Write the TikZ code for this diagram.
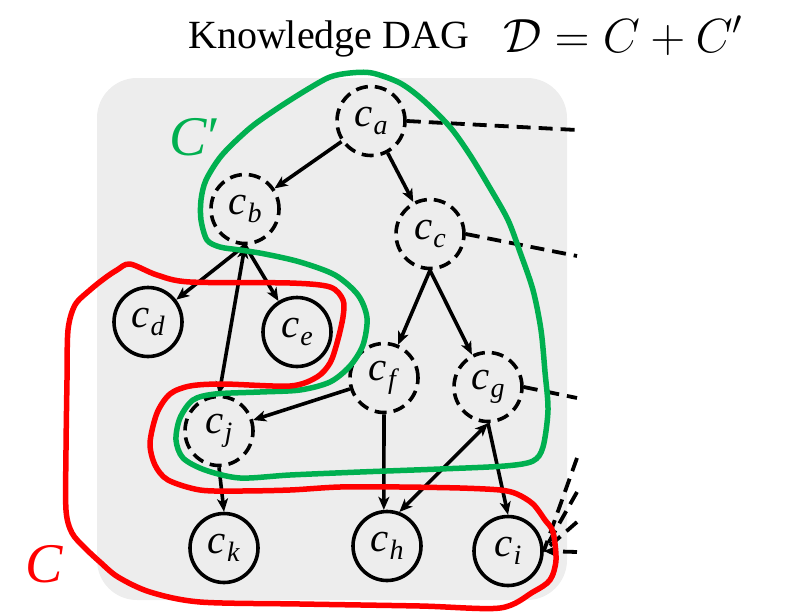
\RequirePackage{fix-cm}
\documentclass[tikz,border=0pt]{standalone}
\usepackage{fontspec}
\setmainfont{Liberation Serif}
\usetikzlibrary{arrows.meta,shapes.geometric}
\definecolor{setgreen}{HTML}{00B050}
\definecolor{setred}{HTML}{FF0000}
\definecolor{panel}{HTML}{EDEDED}
% concept label: italic c with a lowered italic index
\newcommand\cl[1]{\textit{c}\kern1pt\raisebox{-8pt}{\fontsize{28}{28}\selectfont\textit{#1}}}
\begin{document}
\begin{tikzpicture}[x=1pt,y=-1pt,
  concept/.style={ellipse, draw=black, line width=3.6pt, minimum width=68pt,
    minimum height=69pt, inner sep=0pt, font=\fontsize{41}{41}\selectfont},
  abstract/.style={concept, dash pattern=on 12pt off 7pt},
  link/.style={line width=3.6pt, -{Stealth[length=13pt,width=11pt,inset=3.5pt]}},
  biglink/.style={line width=3.6pt, {Stealth[length=13pt,width=11pt,inset=3.5pt]}-{Stealth[length=13pt,width=11pt,inset=3.5pt]}},
  ext/.style={line width=3.8pt, dash pattern=on 14pt off 8pt},
  setline/.style={line width=5.5pt, line join=round}]
\useasboundingbox (0,0) rectangle (793,616);

% title and formula
\node[anchor=base west, font=\fontsize{40}{40}\selectfont, inner sep=0pt] (title) at (188,48) {Knowledge DAG};
\node[anchor=base west, font=\fontsize{48}{48}\selectfont, inner sep=0pt] (formula) at (503,52) {$\mathcal{D}=C+C'$};

% background panel
\fill[panel, rounded corners=40pt] (97,78) rectangle (567,600);

% concepts
\node[abstract] (a) at (371,121) {\cl{a}};
\node[abstract] (b) at (245,209) {\cl{b}};
\node[abstract] (c) at (430,234) {\cl{c}};
\node[concept]  (d) at (148,322) {\cl{d}};
\node[concept]  (e) at (297,332) {\cl{e}};
\node[abstract] (f) at (384,378) {\cl{f}};
\node[abstract] (g) at (488,387) {\cl{g}};
\node[abstract] (j) at (219,431) {\cl{j}};
\node[concept]  (k) at (224,548) {\cl{k}};
\node[concept]  (h) at (387,546) {\cl{h}};
\node[concept]  (i) at (508,551) {\cl{i}};

% relations
\draw[link] (a) -- (b);
\draw[link] (a) -- (c);
\draw[link] (b.south) -- (d);
\draw[link] (b.south) -- (e);
\draw[biglink] (b.south) -- (j.north);
\draw[link] (c.south) -- (f);
\draw[link] (c.south) -- (g);
\draw[link] (f) -- (j);
\draw[link] (f.south) -- (h.95);
\draw[biglink] (g.south) -- (h.70);
\draw[link] (g.south) -- (i.north);
\draw[link] (j.south) -- (k.north);

% links leaving the panel
\coordinate (oa) at (577,130);
\coordinate (oc) at (577,256);
\coordinate (og) at (577,398);
\coordinate (o1) at (577,458);
\coordinate (o2) at (577,492);
\coordinate (o3) at (577,522);
\coordinate (o4) at (577,552);
\draw[ext] (a.east) -- (oa);
\draw[ext] (c.east) -- (oc);
\draw[ext] (g.east) -- (og);
\draw[ext] (o1) -- (i.east);
\draw[ext] (o2) -- (i.east);
\draw[ext] (o3) -- (i.east);
\draw[ext, -{Stealth[length=13pt,width=11pt,inset=3.5pt]}] (o4) -- (i.east);

% set C'
\draw[setgreen, setline] plot[smooth cycle, tension=0.5] coordinates {
  (350,73) (372,73) (400,83) (423,100) (450,127) (470,155) (490,188) (508,220)
  (520,252) (533,290) (541,330) (545,372) (548,410) (543,447) (533,461) (505,466)
  (440,469) (360,472) (290,475) (240,478) (205,470) (183,458) (176,440) (180,418)
  (193,400) (215,394) (260,392) (300,390) (330,382) (350,366) (363,345) (367,318)
  (358,295) (335,275) (300,262) (265,254) (240,250) (220,247) (207,240) (201,220)
  (201,200) (206,180) (222,155) (250,128) (278,108) (308,89) (330,77)};
\node[text=setgreen, font=\fontsize{56}{56}\selectfont\itshape, inner sep=0pt] (cprime) at (193,137) {C\kern-2pt′};

% set C
\draw[setred, setline] plot[smooth cycle, tension=0.5] coordinates {
  (130,264) (157,275) (190,282) (290,283) (330,287) (343,300) (343,317) (337,343)
  (330,363) (317,377) (290,386) (223,384) (190,386) (170,394) (157,413) (150,443)
  (155,465) (168,480) (200,490) (240,491) (290,490) (340,487) (400,487) (460,488)
  (500,490) (517,494) (533,504) (545,520) (553,532) (556,560) (550,580) (533,592)
  (500,608) (420,606) (300,604) (200,602) (150,592) (118,577) (100,562) (85,548)
  (72,533) (66,510) (66,450) (67,380) (68,330) (75,305) (90,290) (105,278) (117,270)};
\node[text=setred, font=\fontsize{56}{56}\selectfont\itshape, inner sep=0pt] (cset) at (44,564) {C};
\end{tikzpicture}
\end{document}
